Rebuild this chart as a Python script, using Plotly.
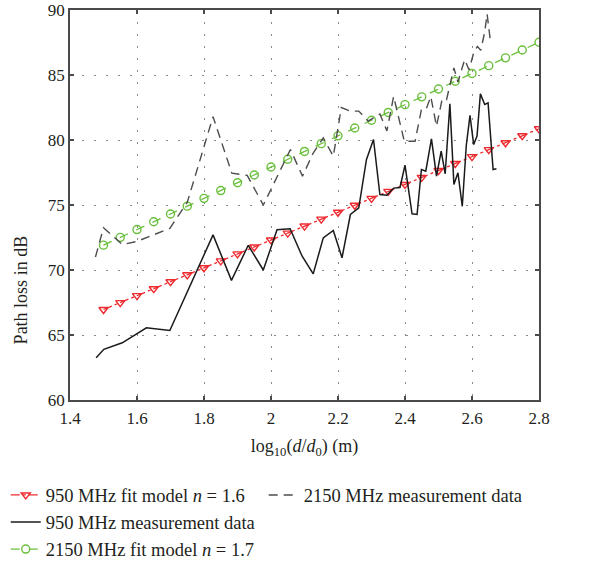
import plotly.graph_objects as go

# ---- data ----
fit_x = [1.50, 1.55, 1.60, 1.65, 1.70, 1.75, 1.80, 1.85, 1.90, 1.95, 2.00, 2.05, 2.10,
         2.15, 2.20, 2.25, 2.30, 2.35, 2.40, 2.45, 2.50, 2.55, 2.60, 2.65, 2.70, 2.75, 2.80]
fit950_y = [66.96, 67.49, 68.03, 68.56, 69.10, 69.63, 70.17, 70.70, 71.24, 71.77, 72.31,
            72.84, 73.38, 73.91, 74.44, 74.98, 75.51, 76.05, 76.58, 77.12, 77.65, 78.19,
            78.72, 79.26, 79.79, 80.33, 80.86]
fit2150_y = [71.91, 72.51, 73.11, 73.71, 74.31, 74.91, 75.51, 76.11, 76.71, 77.31, 77.92,
             78.52, 79.12, 79.72, 80.32, 80.92, 81.52, 82.12, 82.72, 83.32, 83.92, 84.52,
             85.12, 85.72, 86.32, 86.92, 87.52]

meas950_x = [1.478, 1.501, 1.556, 1.628, 1.698, 1.827, 1.882, 1.932, 1.977, 2.018, 2.057,
             2.093, 2.126, 2.156, 2.186, 2.212, 2.237, 2.262, 2.285, 2.306, 2.325, 2.346,
             2.366, 2.385, 2.400, 2.421, 2.436, 2.449, 2.462, 2.479, 2.494, 2.508, 2.520,
             2.534, 2.546, 2.558, 2.571, 2.583, 2.594, 2.605, 2.615, 2.625, 2.638, 2.648,
             2.663, 2.673]
meas950_y = [63.25, 63.9, 64.4, 65.55, 65.35, 72.7, 69.2, 71.9, 70.0, 73.1, 73.17,
             71.06, 69.7, 72.47, 73.04, 70.94, 74.27, 74.78, 78.5, 80.04, 75.8, 75.75,
             76.3, 76.35, 78.06, 74.32, 74.27, 77.73, 77.6, 80.09, 77.22, 79.14, 77.4,
             82.78, 76.58, 77.48, 74.9, 79.6, 81.9, 79.65, 80.3, 83.55, 82.73, 82.86,
             77.73, 77.78]

meas2150_x = [1.476, 1.500, 1.556, 1.600, 1.698, 1.750, 1.827, 1.883, 1.929, 1.977, 2.058,
              2.094, 2.126, 2.156, 2.186, 2.210, 2.237, 2.262, 2.290, 2.325, 2.346, 2.366,
              2.398, 2.430, 2.449, 2.463, 2.477, 2.494, 2.511, 2.524, 2.546, 2.558, 2.578,
              2.591, 2.605, 2.616, 2.626, 2.638, 2.645, 2.655, 2.663]
meas2150_y = [71.0, 73.25, 71.96, 72.2, 73.2, 75.2, 81.8, 77.45, 77.28, 75.0, 79.27,
              77.22, 79.0, 80.17, 78.75, 82.5, 82.22, 82.22, 81.45, 82.0, 80.7, 83.35,
              79.9, 79.9, 82.35, 82.35, 83.35, 81.06, 83.15, 83.1, 85.55, 84.45, 86.19,
              85.4, 86.7, 87.2, 86.9, 88.3, 89.7, 87.6, 87.5]

x_ticks = [1.4, 1.6, 1.8, 2.0, 2.2, 2.4, 2.6, 2.8]
y_ticks = [60, 65, 70, 75, 80, 85, 90]

RED = "#ee2a2f"
GREEN = "#6abf3c"
FONT = "Liberation Serif"
TXT = "#231f20"

fig = go.Figure()
fig.add_trace(go.Scatter(
    x=fit_x, y=fit950_y, mode="lines+markers",
    name="950 MHz fit model <i>n</i> = 1.6",
    line=dict(color=RED, width=1.3, dash="dashdot"),
    marker=dict(symbol="triangle-down-open", size=8, color=RED, line=dict(width=1.4)),
    legend="legend"))
fig.add_trace(go.Scatter(
    x=meas950_x, y=meas950_y, mode="lines",
    name="950 MHz measurement data",
    line=dict(color="#1a1a1a", width=1.5),
    legend="legend"))
fig.add_trace(go.Scatter(
    x=fit_x, y=fit2150_y, mode="lines+markers",
    name="2150 MHz fit model <i>n</i> = 1.7",
    line=dict(color=GREEN, width=1.3, dash="dash"),
    marker=dict(symbol="circle-open", size=8, color=GREEN, line=dict(width=1.4)),
    legend="legend"))
fig.add_trace(go.Scatter(
    x=meas2150_x, y=meas2150_y, mode="lines",
    name="2150 MHz measurement data",
    line=dict(color="#4d4d4d", width=1.4, dash="9px,6px"),
    legend="legend2"))

axis_common = dict(
    showline=True, linecolor="#4a4a4a", linewidth=1.5, mirror="allticks",
    ticks="inside", ticklen=4, tickcolor="#4a4a4a", tickwidth=1.5,
    showgrid=True, gridcolor="#888888", gridwidth=1, griddash="2px,10px",
    zeroline=False, automargin=False,
    tickfont=dict(family=FONT, size=17, color=TXT),
)

fig.update_xaxes(range=[1.4, 2.8], tickvals=x_ticks,
                 ticktext=[("%g" % v) for v in x_ticks],
                 ticklabelstandoff=2,
                 title=dict(text="log<sub>10</sub>(<i>d</i>/<i>d</i><sub>0</sub>) (m)",
                            font=dict(family=FONT, size=18, color=TXT), standoff=12),
                 **axis_common)
fig.update_yaxes(range=[60, 90], tickvals=y_ticks, **axis_common)

fig.add_annotation(text="Path loss in dB", textangle=-90,
                   xref="paper", yref="paper", x=-0.105, y=0.283,
                   xanchor="center", yanchor="middle", showarrow=False,
                   font=dict(family=FONT, size=18, color=TXT))

legend_font = dict(family=FONT, size=18.5, color=TXT)
fig.update_layout(
    width=604, height=565,
    margin=dict(l=70, r=65, t=10, b=165, autoexpand=False),
    paper_bgcolor="white", plot_bgcolor="white",
    showlegend=True,
    legend=dict(x=-0.137, y=-0.196, xanchor="left", yanchor="top",
                orientation="v", font=legend_font, bgcolor="rgba(0,0,0,0)",
                tracegroupgap=0, itemwidth=30),
    legend2=dict(x=0.413, y=-0.196, xanchor="left", yanchor="top",
                 orientation="v", font=legend_font, bgcolor="rgba(0,0,0,0)",
                 itemwidth=30),
)

fig.write_html("out.html")
